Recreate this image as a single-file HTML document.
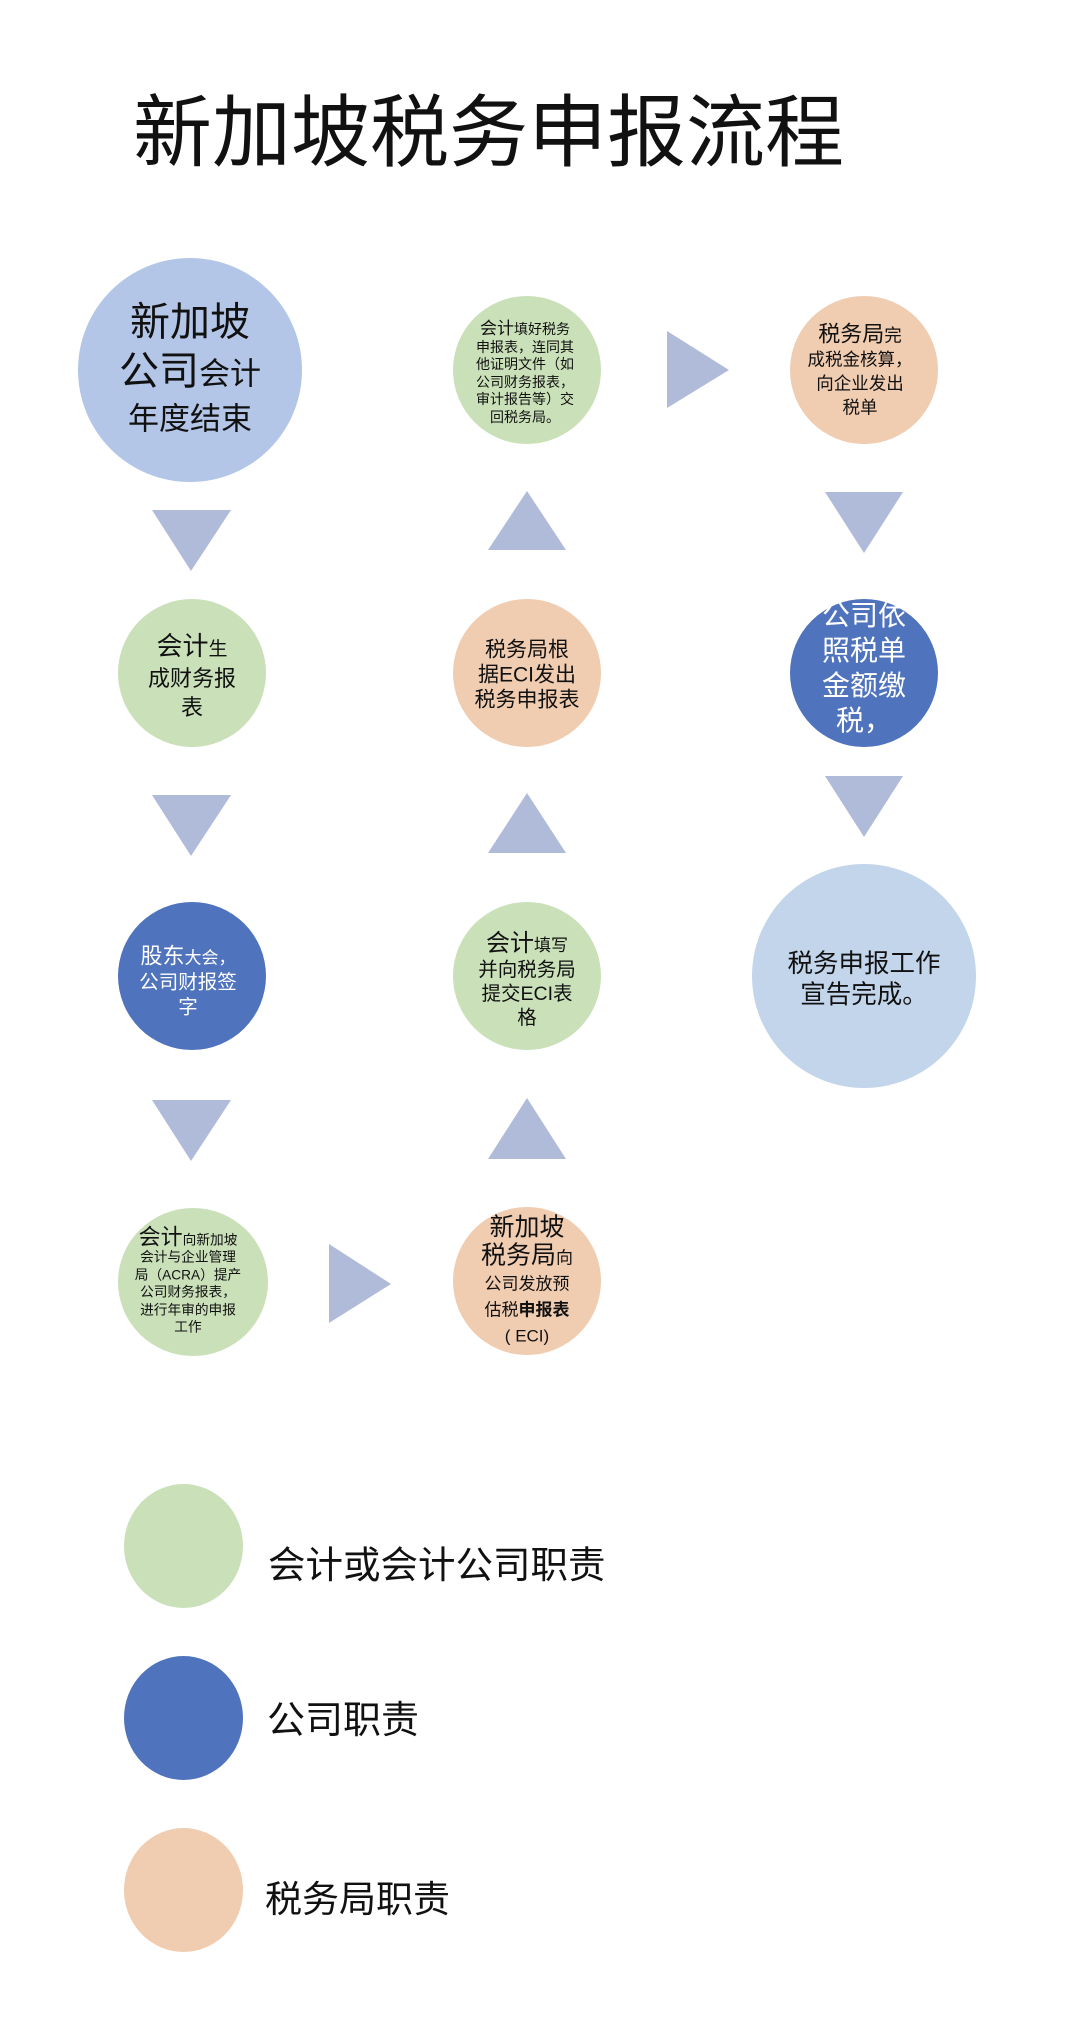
<!DOCTYPE html>
<html><head><meta charset="utf-8">
<style>
html,body{margin:0;padding:0;background:#fff;}
body{width:1080px;height:2041px;position:relative;overflow:hidden;font-family:"Liberation Sans","Noto Sans CJK SC",sans-serif;color:#111;}
.c{position:absolute;border-radius:50%;}
.t{position:absolute;text-align:center;white-space:nowrap;transform:translate(-50%,-50%);}
.t div{white-space:nowrap;}
.g{background:#c9e0b9}.lb{background:#b4c6e7}.p{background:#f0ccb0}.db{background:#4f73bd}.pb{background:#c3d5ea}
svg{position:absolute;left:0;top:0;}
</style></head><body>
<div style="position:absolute;left:133px;top:84px;font-size:79px;line-height:98px;white-space:nowrap;">新加坡税务申报流程</div>

<svg width="1080" height="2041">
<g fill="#b0bad9">
<polygon points="152,510 231,510 191,571"/>
<polygon points="152,795 231,795 191,856"/>
<polygon points="152,1100 231,1100 191,1161"/>
<polygon points="488,550 566,550 527,491"/>
<polygon points="488,853 566,853 527,793"/>
<polygon points="488,1159 566,1159 527,1098"/>
<polygon points="825,492 903,492 864,553"/>
<polygon points="825,776 903,776 864,837"/>
<polygon points="667,331 729,370 667,408"/>
<polygon points="329,1244 391,1284 329,1323"/>
</g>
</svg>

<div class="c lb" style="left:78px;top:258px;width:224px;height:224px"></div>
<div class="t" style="left:190px;top:369px;"><div style="font-size:40px;line-height:50px">新加坡</div><div style="font-size:40px;line-height:48px">公司<span style="font-size:31px">会计</span></div><div style="font-size:31px;line-height:42px">年度结束</div></div>

<div class="c g" style="left:453px;top:296px;width:148px;height:148px"></div>
<div class="t" style="left:525px;top:373px;font-size:14px;line-height:17.5px"><div><span style="font-size:17px">会计</span>填好税务</div><div>申报表，连同其</div><div>他证明文件（如</div><div>公司财务报表，</div><div>审计报告等）交</div><div>回税务局。</div></div>

<div class="c p" style="left:790px;top:296px;width:148px;height:148px"></div>
<div class="t" style="left:860px;top:371px;font-size:17.5px;line-height:24px"><div><span style="font-size:22px">税务局</span>完</div><div>成税金核算，</div><div>向企业发出</div><div>税单</div></div>

<div class="c g" style="left:118px;top:599px;width:148px;height:148px"></div>
<div class="t" style="left:192px;top:677px;font-size:22px;line-height:29px"><div><span style="font-size:26px">会计</span><span style="font-size:19px">生</span></div><div>成财务报</div><div>表</div></div>

<div class="c p" style="left:453px;top:599px;width:148px;height:148px"></div>
<div class="t" style="left:527px;top:675px;font-size:21px;line-height:25px"><div>税务局根</div><div>据ECI发出</div><div>税务申报表</div></div>

<div class="c db" style="left:790px;top:599px;width:148px;height:148px"></div>
<div class="t" style="left:864px;top:668px;font-size:28px;line-height:35px;color:#fff"><div>公司依</div><div>照税单</div><div>金额缴</div><div>税，</div></div>

<div class="c db" style="left:118px;top:902px;width:148px;height:148px"></div>
<div class="t" style="left:188px;top:982px;font-size:19.5px;line-height:25px;color:#fff"><div><span style="font-size:22px">股东</span><span style="font-size:17px">大会，</span></div><div>公司财报签</div><div>字</div></div>

<div class="c g" style="left:453px;top:902px;width:148px;height:148px"></div>
<div class="t" style="left:527px;top:981px;font-size:19.5px;line-height:24px"><div><span style="font-size:24px">会计</span><span style="font-size:17px">填写</span></div><div>并向税务局</div><div>提交ECI表</div><div>格</div></div>

<div class="c pb" style="left:752px;top:864px;width:224px;height:224px"></div>
<div class="t" style="left:864px;top:980px;font-size:25.5px;line-height:31px"><div>税务申报工作</div><div>宣告完成。</div></div>

<div class="c g" style="left:118px;top:1208px;width:150px;height:148px"></div>
<div class="t" style="left:188px;top:1282px;font-size:13.7px;line-height:17.4px"><div><span style="font-size:22px">会计</span>向新加坡</div><div>会计与企业管理</div><div>局（ACRA）提产</div><div>公司财务报表，</div><div>进行年审的申报</div><div>工作</div></div>

<div class="c p" style="left:453px;top:1207px;width:148px;height:148px"></div>
<div class="t" style="left:527px;top:1281px;font-size:17px;line-height:26px"><div style="font-size:25px;line-height:30px">新加坡</div><div><span style="font-size:25px">税务局</span>向</div><div>公司发放预</div><div>估税<b>申报表</b></div><div>( ECI)</div></div>

<div class="c g" style="left:124px;top:1484px;width:119px;height:124px"></div>
<div style="position:absolute;left:268px;top:1541px;font-size:37.5px;line-height:48px;white-space:nowrap">会计或会计公司职责</div>
<div class="c db" style="left:124px;top:1656px;width:119px;height:124px"></div>
<div style="position:absolute;left:267px;top:1697px;font-size:38px;line-height:48px;white-space:nowrap">公司职责</div>
<div class="c p" style="left:124px;top:1828px;width:119px;height:124px"></div>
<div style="position:absolute;left:265px;top:1876px;font-size:37px;line-height:48px;white-space:nowrap">税务局职责</div>
</body></html>
